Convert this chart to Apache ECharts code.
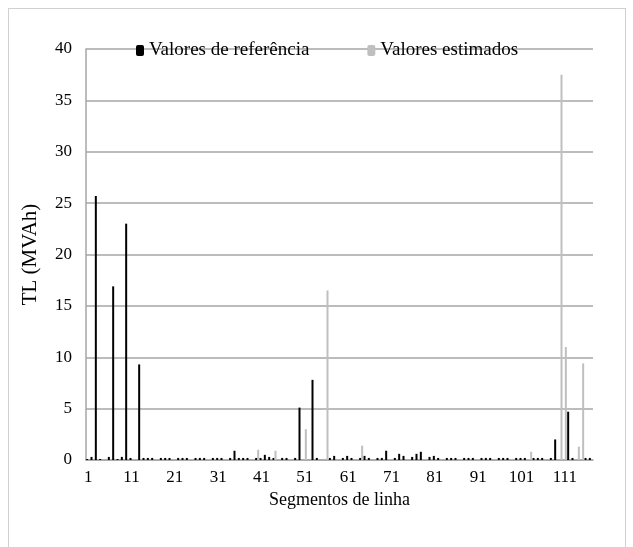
<!DOCTYPE html>
<html>
<head>
<meta charset="utf-8">
<script src="https://cdn.jsdelivr.net/npm/echarts@6/dist/echarts.min.js"></script>
<style>
  html, body { margin: 0; padding: 0; background: #fff; }
  #frame { position: absolute; left: 8px; top: 8px; width: 616px; height: 560px; border: 1px solid #d0d0d0; }
  #main { position: absolute; left: 0; top: 0; width: 633px; height: 547px; }
</style>
</head>
<body>
<div id="frame"></div>
<div id="main"></div>
<script>
// segmentos 1..117
var categories = [];
for (var i = 1; i <= 117; i++) categories.push(String(i));

// Valores de referência (MVAh)
var refValues = [
  0.1, 0.3, 25.7, 0.1, 0, 0.3, 16.9, 0.1, 0.3, 23.0,
  0.2, 0, 9.3, 0.2, 0.2, 0.2, 0, 0.2, 0.2, 0.2,
  0, 0.2, 0.2, 0.2, 0, 0.2, 0.2, 0.2, 0, 0.2,
  0.2, 0.2, 0, 0.2, 0.9, 0.2, 0.2, 0.2, 0, 0.2,
  0.2, 0.5, 0.3, 0.2, 0, 0.2, 0.2, 0, 0.2, 5.1,
  0, 0, 7.8, 0.2, 0, 0, 0.2, 0.4, 0, 0.2,
  0.4, 0.2, 0, 0.2, 0.4, 0.2, 0, 0.2, 0.2, 0.9,
  0, 0.2, 0.6, 0.4, 0, 0.3, 0.6, 0.8, 0, 0.3,
  0.4, 0.2, 0, 0.2, 0.2, 0.2, 0, 0.2, 0.2, 0.2,
  0, 0.2, 0.2, 0.2, 0, 0.2, 0.2, 0.2, 0, 0.2,
  0.2, 0.2, 0, 0.2, 0.2, 0.2, 0, 0.2, 2.0, 0,
  0, 4.7, 0.2, 0, 0, 0.2, 0.2
];

// Valores estimados (MVAh)
var estValues = [
  0, 0, 0, 0, 0, 0, 0, 0, 0, 0,
  0, 0, 0, 0, 0, 0, 0, 0, 0, 0,
  0, 0, 0, 0, 0, 0, 0, 0, 0, 0,
  0, 0, 0, 0, 0, 0, 0, 0, 0, 1.0,
  0, 0, 0, 0.9, 0, 0, 0, 0, 0, 0,
  3.0, 0, 0, 0, 0, 16.5, 0, 0, 0, 0,
  0, 0, 0, 1.4, 0, 0, 0, 0, 0, 0,
  0, 0, 0, 0, 0, 0, 0, 0, 0, 0,
  0, 0, 0, 0, 0, 0, 0, 0, 0, 0,
  0, 0, 0, 0, 0, 0, 0, 0, 0, 0,
  0, 0, 0.8, 0, 0, 0, 0, 0, 0, 37.5,
  11.0, 0, 0, 1.3, 9.4, 0, 0
];

var yTicks = [0, 5, 10, 15, 20, 25, 30, 35, 40];

var serif = "'Liberation Serif', 'DejaVu Serif', serif";
var myChart = echarts.init(document.getElementById('main'));
var option = {
  animation: false,
  textStyle: { fontFamily: serif },
  legend: {
    data: ['Valores de referência', 'Valores estimados'],
    left: 131,
    top: 36,
    itemWidth: 8,
    itemHeight: 11,
    itemGap: 58,
    textStyle: { fontFamily: serif, fontSize: 19, color: '#000' }
  },
  grid: { left: 86, right: 40, top: 49, bottom: 87 },
  xAxis: {
    type: 'category',
    data: categories,
    name: 'Segmentos de linha',
    nameLocation: 'middle',
    nameGap: 28,
    nameTextStyle: { fontFamily: serif, fontSize: 18, color: '#000' },
    axisLine: { lineStyle: { color: '#a6a6a6', width: 1.5 } },
    axisTick: { interval: 0, length: 5, lineStyle: { color: '#a6a6a6' } },
    axisLabel: { interval: 9, fontFamily: serif, fontSize: 17, color: '#000', margin: 9 }
  },
  yAxis: {
    type: 'value',
    min: yTicks[0],
    max: yTicks[yTicks.length - 1],
    interval: 5,
    name: 'TL (MVAh)',
    nameLocation: 'middle',
    nameGap: 45,
    nameTextStyle: { fontFamily: serif, fontSize: 21, color: '#000' },
    axisLine: { show: true, lineStyle: { color: '#a6a6a6', width: 1.5 } },
    axisTick: { show: false },
    axisLabel: { fontFamily: serif, fontSize: 17, color: '#000', margin: 14 },
    splitLine: { lineStyle: { color: '#a6a6a6', width: 1.5 } }
  },
  series: [
    {
      name: 'Valores de referência',
      type: 'bar',
      data: refValues,
      barWidth: 2,
      barGap: '0%',
      itemStyle: { color: '#000' }
    },
    {
      name: 'Valores estimados',
      type: 'bar',
      data: estValues,
      barWidth: 2,
      itemStyle: { color: '#bfbfbf' }
    }
  ]
};
myChart.setOption(option);
</script>
</body>
</html>
